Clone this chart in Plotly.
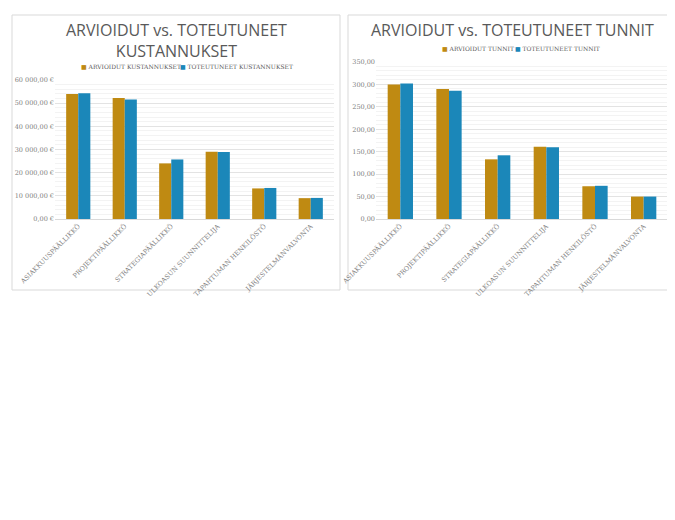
import plotly.graph_objects as go
from plotly.subplots import make_subplots

roles = ["ASIAKKUUSPÄÄLLIKKÖ", "PROJEKTIPÄÄLLIKKÖ", "STRATEGIAPÄÄLLIKKÖ",
         "ULKOASUN SUUNNITTELIJA", "TAPAHTUMAN HENKILÖSTÖ", "JÄRJESTELMÄNVALVONTA"]
cost_est = [54000, 52200, 24000, 29000, 13200, 9000]
cost_act = [54300, 51600, 25700, 28900, 13400, 9100]
hours_est = [300, 290, 133, 161, 73, 50]
hours_act = [302, 286, 142, 160, 74, 50]

cost_ticks = list(range(0, 60001, 10000))
cost_labels = [f"{v:,}".replace(",", " ") + ",00 €" for v in cost_ticks]
hour_ticks = list(range(0, 351, 50))
hour_labels = [f"{v},00" for v in hour_ticks]

GOLD = "#BF8A12"
BLUE = "#1B87B9"
W, H = 675, 520

def px(x0, x1):
    return [x0 / W, x1 / W]

def py(top, bottom):
    return [1 - bottom / H, 1 - top / H]

fig = make_subplots(rows=1, cols=2)
fig.add_trace(go.Bar(x=roles, y=cost_est, marker_color=GOLD), row=1, col=1)
fig.add_trace(go.Bar(x=roles, y=cost_act, marker_color=BLUE), row=1, col=1)
fig.add_trace(go.Bar(x=roles, y=hours_est, marker_color=GOLD), row=1, col=2)
fig.add_trace(go.Bar(x=roles, y=hours_act, marker_color=BLUE), row=1, col=2)
fig.update_traces(showlegend=False, marker_line_width=0)

tickfont = dict(family="DejaVu Serif", size=6.5, color="#808080")
fig.update_xaxes(tickangle=-45, tickfont=tickfont, showline=True, linecolor="#d9d9d9",
                 ticks="", automargin=False)
fig.update_xaxes(domain=px(47, 326), row=1, col=1)
fig.update_xaxes(domain=px(368, 660), row=1, col=2)
fig.update_yaxes(tickfont=tickfont, gridcolor="#e3e3e3", zeroline=False, automargin=False,
                 minor=dict(showgrid=True, gridcolor="#f3f3f3"))
fig.update_yaxes(domain=py(72, 211), range=[0, 60000], tickvals=cost_ticks,
                 ticktext=cost_labels, minor_dtick=2000, row=1, col=1)
fig.update_yaxes(domain=py(54, 211), range=[0, 350], tickvals=hour_ticks,
                 ticktext=hour_labels, minor_dtick=10, row=1, col=2)

shapes = []
for x0, x1 in [(4, 332), (340, 669)]:
    shapes.append(dict(type="rect", xref="paper", yref="paper",
                       x0=x0 / W, x1=x1 / W, y0=1 - 282 / H, y1=1 - 7 / H,
                       line=dict(color="#d9d9d9", width=1), layer="below"))

titlefont = dict(family="Open Sans", size=16, color="#595959")
legfont = dict(family="DejaVu Serif", size=6, color="#595959")
ann = [
    dict(x=168 / W, y=1 - 32 / H, text="ARVIOIDUT vs. TOTEUTUNEET<br>KUSTANNUKSET",
         font=titlefont, xanchor="center"),
    dict(x=504 / W, y=1 - 22 / H, text="ARVIOIDUT vs. TOTEUTUNEET TUNNIT",
         font=titlefont, xanchor="center"),
    dict(x=71 / W, y=1 - 58 / H, xanchor="left",
         text=f"<span style='color:{GOLD}'>■</span> ARVIOIDUT KUSTANNUKSET", font=legfont),
    dict(x=170 / W, y=1 - 58 / H, xanchor="left",
         text=f"<span style='color:{BLUE}'>■</span> TOTEUTUNEET KUSTANNUKSET", font=legfont),
    dict(x=432 / W, y=1 - 41 / H, xanchor="left",
         text=f"<span style='color:{GOLD}'>■</span> ARVIOIDUT TUNNIT", font=legfont),
    dict(x=505 / W, y=1 - 41 / H, xanchor="left",
         text=f"<span style='color:{BLUE}'>■</span> TOTEUTUNEET TUNNIT", font=legfont),
]
for a in ann:
    a.update(xref="paper", yref="paper", showarrow=False, yanchor="middle")

fig.update_layout(width=W, height=H, margin=dict(l=0, r=0, t=0, b=0),
                  plot_bgcolor="white", paper_bgcolor="white",
                  barmode="group", bargap=0.48, bargroupgap=0,
                  shapes=shapes, annotations=ann)

fig.write_html("out.html")
